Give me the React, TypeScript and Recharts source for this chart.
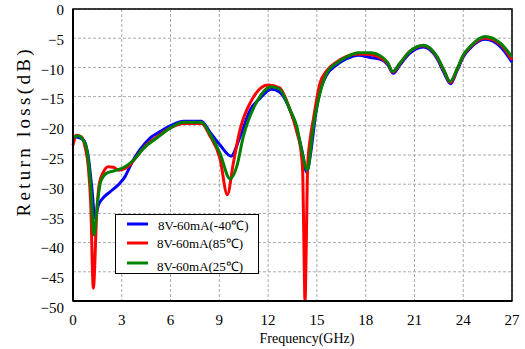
import React from 'react';
import { LineChart, Line, XAxis, YAxis, CartesianGrid, Legend, Label, ReferenceArea } from 'recharts';

const xTicks = [0, 3, 6, 9, 12, 15, 18, 21, 24, 27];
const yTicks = [0, -5, -10, -15, -20, -25, -30, -35, -40, -45, -50];

const seriesNames = ['8V-60mA(-40℃)', '8V-60mA(85℃)', '8V-60mA(25℃)'];
const seriesColors = ['#0000FF', '#FF0000', '#008000'];

const blueFreq = [0, 0.2, 0.64, 0.94, 1.15, 1.35, 1.56, 1.87, 2.28, 2.79, 3.2, 3.6, 4.12, 4.74, 5.35, 5.97, 6.8, 7.9, 8.4, 9.04, 9.72, 10.27, 10.9, 11.5, 12.2, 12.7, 13.35, 13.8, 14.1, 14.37, 14.65, 14.9, 15.2, 15.6, 16.2, 16.83, 17.55, 18.27, 19.0, 19.35, 19.7, 20.1, 20.7, 21.55, 22.4, 22.8, 23.23, 23.6, 24.0, 24.4, 25.34, 26.3, 27];
const blueLoss = [-22.7, -21.9, -22.4, -25.3, -30.4, -35.8, -33.6, -32.3, -31.3, -30.1, -28.7, -26.4, -24.1, -22.1, -21, -20, -19.2, -19.2, -21.0, -23.3, -25.2, -21.9, -17.3, -15.3, -13.75, -14.2, -17.3, -21, -24.5, -27.9, -24, -18.5, -14, -11.3, -9.6, -8.5, -7.9, -8.3, -8.7, -9.5, -11.0, -9.6, -7.6, -6.5, -8.5, -10.8, -12.8, -10.7, -8.2, -6.8, -5.2, -6.5, -9.1];

const redFreq = [0, 0.2, 0.53, 0.74, 0.94, 1.09, 1.25, 1.46, 1.62, 1.87, 2.17, 2.48, 2.79, 3.2, 3.5, 3.9, 4.5, 5.15, 5.97, 6.8, 7.9, 8.4, 9.04, 9.49, 9.86, 10.27, 10.99, 12.0, 12.7, 13.35, 13.76, 14.05, 14.13, 14.2, 14.27, 14.35, 14.43, 14.6, 14.78, 15.19, 15.6, 16.2, 16.83, 17.55, 18.27, 19.0, 19.35, 19.68, 20.1, 20.7, 21.55, 22.4, 22.8, 23.22, 23.6, 24.0, 24.4, 25.34, 26.3, 27];
const redLoss = [-23.3, -21.6, -21.9, -23.6, -27, -33.3, -47.8, -35, -29.9, -27.9, -27, -27.1, -27.6, -27.3, -26.7, -25.3, -23.3, -21.9, -20.4, -19.6, -19.6, -21.6, -25.6, -31.8, -26.4, -20.7, -15.6, -13.0, -13.5, -17.3, -21, -25, -28, -40, -50, -40, -27, -22, -18.9, -12.7, -10.6, -9.1, -8.1, -7.7, -7.8, -8.5, -9.3, -10.8, -9.4, -7.3, -6.3, -8.3, -10.5, -12.6, -10.5, -8.0, -6.6, -4.95, -6.1, -8.7];

const greenFreq = [0, 0.3, 0.74, 0.94, 1.09, 1.29, 1.5, 1.7, 2.07, 2.69, 3.2, 3.71, 4.32, 5.15, 5.97, 6.8, 7.9, 8.4, 9.04, 9.66, 10.07, 10.47, 11.3, 12.2, 12.7, 13.35, 13.76, 14.06, 14.41, 14.78, 15.19, 15.6, 16.2, 16.83, 17.55, 18.27, 19.0, 19.35, 19.66, 20.1, 20.7, 21.55, 22.4, 22.8, 23.2, 23.6, 24.0, 24.4, 25.34, 26.3, 27];
const greenLoss = [-22.1, -21.7, -23, -25.9, -30.4, -38.7, -33.3, -29.6, -28.1, -27.6, -27, -25.9, -23.9, -22.1, -20.4, -19.4, -19.4, -21.3, -24.7, -29.1, -27, -21.9, -15.9, -13.3, -13.7, -17.3, -20.1, -24.1, -27.6, -20.1, -14.4, -11, -9.3, -8.2, -7.5, -7.5, -8.2, -9.2, -10.7, -9.3, -7.3, -6.2, -8.2, -10.4, -12.4, -10.4, -7.9, -6.5, -4.7, -5.9, -8.2];

const toData = (fs: number[], vs: number[]) => fs.map((f, i) => ({ f, v: vs[i] }));
const blueData = toData(blueFreq, blueLoss);
const redData = toData(redFreq, redLoss);
const greenData = toData(greenFreq, greenLoss);

const FONT = '"Liberation Serif", "Times New Roman", serif';

const fmtY = (v: number) => (v === 0 ? '0' : '\u2212' + Math.abs(v));

const XTick = (props: any) => {
  const { x, payload } = props;
  return (
    <text x={x} y={320} textAnchor="middle" dominantBaseline="central" fontFamily={FONT} fontSize={15} fill="#000">
      {payload.value}
    </text>
  );
};

const YTick = (props: any) => {
  const { y, payload } = props;
  const shift = 1 + 0.6 * (-payload.value / 5);
  return (
    <text x={64} y={y + shift} textAnchor="end" dominantBaseline="central" fontFamily={FONT} fontSize={15} fill="#000">
      {fmtY(payload.value)}
    </text>
  );
};

const LegendBox = () => {
  const rows = [
    { lineY: 10, textY: 11, textX: 43 },
    { lineY: 29, textY: 29, textX: 42 },
    { lineY: 49, textY: 52, textX: 42 },
  ];
  return (
    <svg width={144} height={60} style={{ display: 'block' }}>
      <rect x={0.5} y={0.5} width={143} height={59} fill="#fff" stroke="#000" strokeWidth={1} />
      {rows.map((r, i) => (
        <g key={i}>
          <line x1={12} x2={33} y1={r.lineY} y2={r.lineY} stroke={seriesColors[i]} strokeWidth={3} />
          <text x={r.textX} y={r.textY} dominantBaseline="central" fontFamily={FONT} fontSize={13} fill="#000">
            {seriesNames[i]}
          </text>
        </g>
      ))}
    </svg>
  );
};

export default function App() {
  return (
    <div style={{ position: 'absolute', left: 0, top: 0, background: '#fff' }}>
      <LineChart width={525} height={349} margin={{ top: 9, right: 13, left: 0, bottom: 0 }}>
        <CartesianGrid stroke="#aaaaaa" strokeDasharray="3 2" />
        <XAxis
          dataKey="f"
          type="number"
          domain={[0, 27]}
          ticks={xTicks}
          height={48}
          tickLine={false}
          tickSize={0}
          axisLine={{ stroke: '#000', strokeWidth: 2 }}
          tick={<XTick />}
        >
          <Label
            content={() => (
              <text x={307} y={338} textAnchor="middle" dominantBaseline="central" fontFamily={FONT} fontSize={14} fill="#000">
                Frequency(GHz)
              </text>
            )}
          />
        </XAxis>
        <YAxis
          type="number"
          domain={[-50, 0]}
          ticks={yTicks}
          allowDataOverflow
          width={73}
          tickLine={false}
          tickSize={0}
          axisLine={{ stroke: '#000', strokeWidth: 2 }}
          tick={<YTick />}
        >
          <Label
            content={() => (
              <text
                x={23}
                y={133}
                textAnchor="middle"
                dominantBaseline="central"
                transform="rotate(-90, 23, 133)"
                fontFamily={FONT}
                fontSize={19}
                textLength={167}
                lengthAdjust="spacing"
                fill="#000"
              >
                Return  loss(dB)
              </text>
            )}
          />
        </YAxis>
        <ReferenceArea x1={0} x2={27} y1={-50} y2={0} fill="none" stroke="#000" strokeWidth={1.5} />
        <Line data={blueData} dataKey="v" name={seriesNames[0]} type="monotone" stroke={seriesColors[0]} strokeWidth={3} dot={false} isAnimationActive={false} />
        <Line data={redData} dataKey="v" name={seriesNames[1]} type="monotone" stroke={seriesColors[1]} strokeWidth={3} dot={false} isAnimationActive={false} />
        <Line data={greenData} dataKey="v" name={seriesNames[2]} type="monotone" stroke={seriesColors[2]} strokeWidth={3} dot={false} isAnimationActive={false} />
        <Legend
          layout="horizontal"
          verticalAlign="middle"
          align="center"
          content={() => <LegendBox />}
          wrapperStyle={{ position: 'absolute', left: 115, top: 214, width: 144, height: 60 }}
        />
      </LineChart>
    </div>
  );
}
